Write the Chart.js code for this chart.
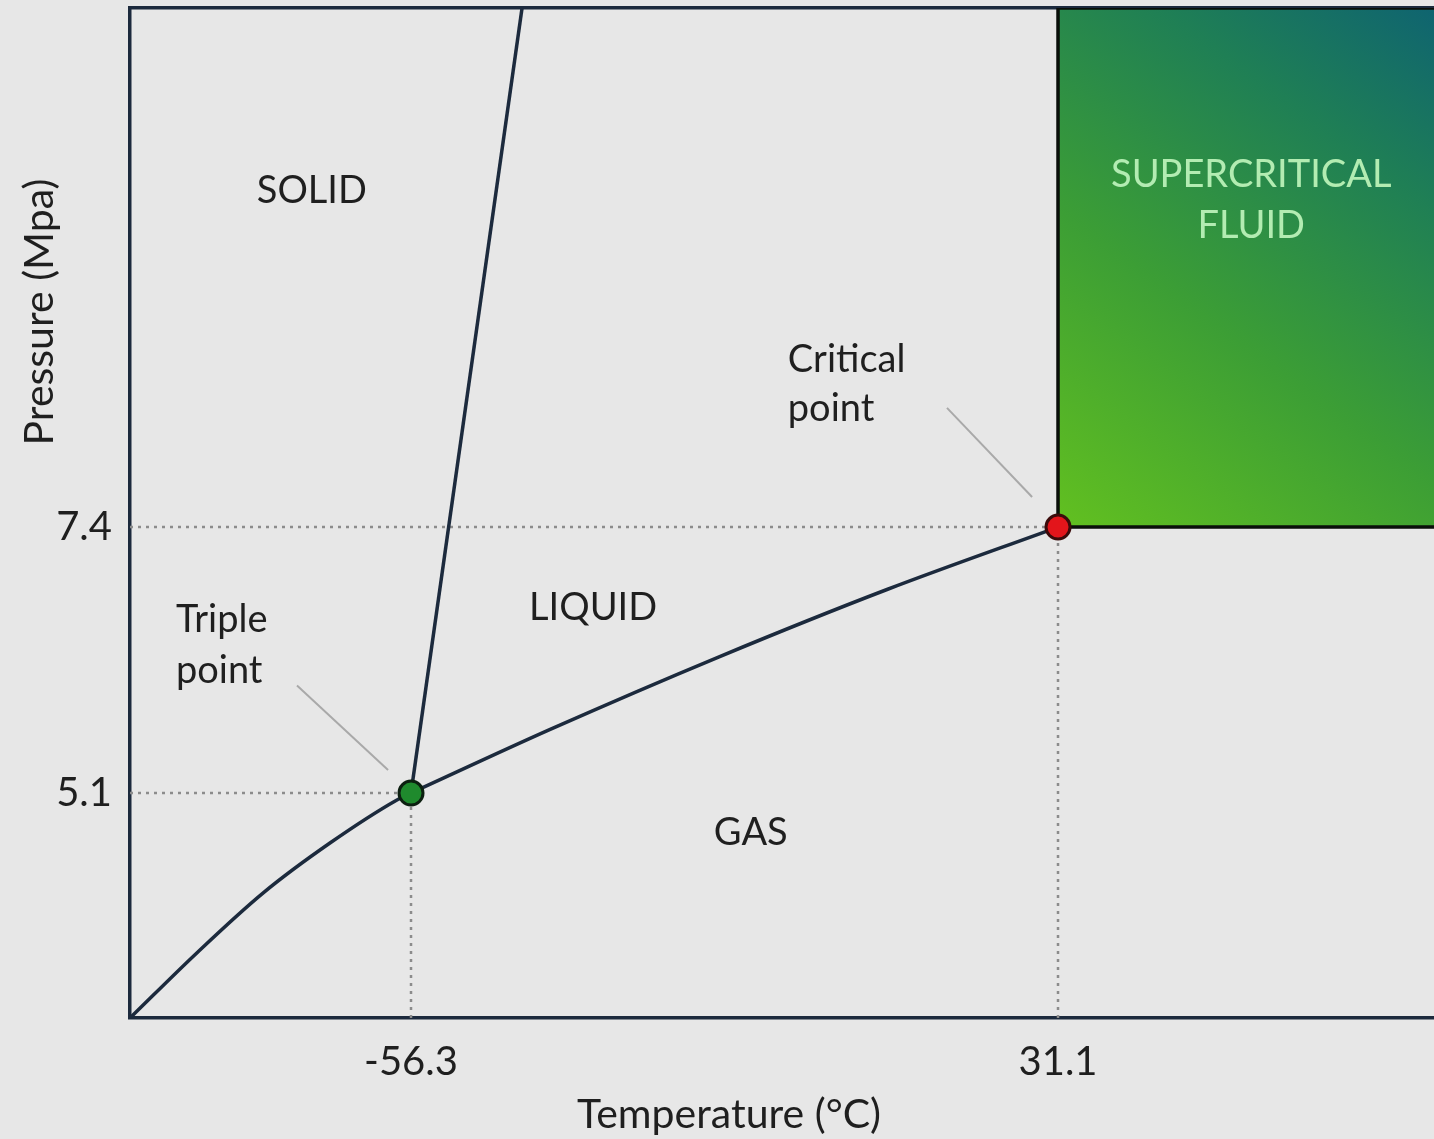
<!DOCTYPE html>
<html>
<head>
<meta charset="utf-8">
<title>CO2 phase diagram</title>
<script src="https://cdn.jsdelivr.net/npm/chart.js@4.4.1/dist/chart.umd.min.js"></script>
<style>
  html, body { margin: 0; padding: 0; background: #e7e7e7; overflow: hidden; }
  #wrap { width: 1434px; height: 1139px; position: relative; overflow: hidden; }
  canvas { display: block; }
</style>
</head>
<body>
<div id="wrap"><canvas id="phaseChart"></canvas></div>
<script>
// axis range (schematic, not to scale)
var tempMin = -94.26, tempMax = 81.89;
var presMin = 3.155, presMax = 11.888;

// tick labels
var tempTicks = [-56.3, 31.1];
var presTicks = [5.1, 7.4];

// special points
var triplePoint = {x: -56.3, y: 5.1};
var criticalPoint = {x: 31.1, y: 7.4};

// phase boundaries
var sublimationT = [-94.26, -85.2, -76.3, -67.2, -58.2, -56.3];
var sublimationP = [3.155, 3.72, 4.235, 4.67, 5.04, 5.1];
var meltingT = [-56.3, -41.3];
var meltingP = [5.1, 11.888];
var vaporT = [-56.3, -37.5, -14.6, 8.0, 31.1];
var vaporP = [5.1, 5.65, 6.28, 6.86, 7.4];

// text in the plot
var phaseNames = ["SOLID", "LIQUID", "GAS", "SUPERCRITICAL", "FLUID"];
var phaseT = [-69.7, -31.7, -10.4, 57.2, 57.2];
var phaseP = [10.20, 6.60, 4.65, 10.34, 9.90];
var noteLines = ["Triple", "point", "Critical", "point"];
var noteT = [-88.05, -88.05, -5.4, -5.4];
var noteP = [6.49, 6.05, 8.74, 8.32];
// leader lines from notes to points
var tripleLeaderT = [-71.7, -59.4];
var tripleLeaderP = [6.03, 5.30];
var criticalLeaderT = [16.1, 27.6];
var criticalLeaderP = [8.43, 7.66];

function pts(xs, ys) {
  return xs.map(function(x, i) { return {x: x, y: ys[i]}; });
}

var lineColor = "#1c2a3d";
var guideColor = "#8c8c8c";
var textColor = "#1f1f1f";

// supercritical block gradient
function scfFill(ctx) {
  var chart = ctx.chart;
  if (!chart.chartArea) return "#3f9c35";
  var sx = chart.scales.x, sy = chart.scales.y;
  var g = chart.ctx.createLinearGradient(
    sx.getPixelForValue(criticalPoint.x), sy.getPixelForValue(criticalPoint.y),
    sx.getPixelForValue(tempMax), sy.getPixelForValue(presMax));
  g.addColorStop(0, "#62c020");
  g.addColorStop(0.4, "#3c9e35");
  g.addColorStop(0.75, "#1f7f55");
  g.addColorStop(1, "#0f6470");
  return g;
}

var labelPlugin = {
  id: "phaseLabels",
  afterDatasetsDraw: function(chart) {
    var c = chart.ctx, sx = chart.scales.x, sy = chart.scales.y, ca = chart.chartArea;
    c.save();
    c.font = "38px Lato";
    c.textBaseline = "alphabetic";
    c.textAlign = "center";
    phaseNames.forEach(function(name, i) {
      c.fillStyle = i >= 3 ? "#b3ecb2" : textColor;
      c.fillText(name, sx.getPixelForValue(phaseT[i]), sy.getPixelForValue(phaseP[i]));
    });
    c.textAlign = "left";
    c.fillStyle = textColor;
    noteLines.forEach(function(txt, i) {
      c.fillText(txt, sx.getPixelForValue(noteT[i]), sy.getPixelForValue(noteP[i]));
    });
    // axis titles
    c.font = "41px Lato";
    c.textAlign = "center";
    c.textBaseline = "middle";
    c.fillText("Temperature (\u00B0C)", ca.left + 599, ca.bottom + 97);
    c.translate(ca.left - 90, ca.top + 304);
    c.rotate(-Math.PI / 2);
    c.fillText("Pressure (Mpa)", 0, 0);
    c.restore();
  }
};

// keep the plot area flush with the frame
function noPad(s) {
  s.paddingTop = 0; s.paddingBottom = 0; s.paddingLeft = 0; s.paddingRight = 0;
}

var guideStyle = {
  showLine: true, borderColor: guideColor, borderWidth: 2.5, borderDash: [3, 5],
  pointRadius: 0, order: 3
};

var chart = new Chart(document.getElementById("phaseChart"), {
  type: "scatter",
  data: {
    datasets: [
      {
        label: "Critical point", data: [criticalPoint],
        pointRadius: 12, pointBackgroundColor: "#e3151b", pointBorderColor: "#3b0b0b",
        pointBorderWidth: 3, order: 0, clip: false
      },
      {
        label: "Triple point", data: [triplePoint],
        pointRadius: 12, pointBackgroundColor: "#1f8a2d", pointBorderColor: "#0c1f10",
        pointBorderWidth: 3, order: 0, clip: false
      },
      {
        label: "Sublimation", data: pts(sublimationT, sublimationP), showLine: true,
        borderColor: lineColor, borderWidth: 3.5, pointRadius: 0,
        cubicInterpolationMode: "monotone", order: 1
      },
      {
        label: "Melting", data: pts(meltingT, meltingP), showLine: true,
        borderColor: lineColor, borderWidth: 3.5, pointRadius: 0, order: 1
      },
      {
        label: "Vaporization", data: pts(vaporT, vaporP), showLine: true,
        borderColor: lineColor, borderWidth: 3.5, pointRadius: 0,
        cubicInterpolationMode: "monotone", order: 1
      },
      {
        label: "Triple leader", data: pts(tripleLeaderT, tripleLeaderP), showLine: true,
        borderColor: "#a9a9a9", borderWidth: 2, pointRadius: 0, order: 2
      },
      {
        label: "Critical leader", data: pts(criticalLeaderT, criticalLeaderP), showLine: true,
        borderColor: "#a9a9a9", borderWidth: 2, pointRadius: 0, order: 2
      },
      Object.assign({label: "P guide 7.4", data: [{x: tempMin, y: 7.4}, criticalPoint]}, guideStyle),
      Object.assign({label: "P guide 5.1", data: [{x: tempMin, y: 5.1}, triplePoint]}, guideStyle),
      Object.assign({label: "T guide -56.3", data: [{x: -56.3, y: presMin}, triplePoint]}, guideStyle),
      Object.assign({label: "T guide 31.1", data: [{x: 31.1, y: presMin}, criticalPoint]}, guideStyle),
      {
        label: "Supercritical fluid",
        data: [{x: tempMax, y: 7.4}, criticalPoint, {x: 31.1, y: presMax}, {x: tempMax, y: presMax}],
        showLine: true, fill: "shape", backgroundColor: scfFill,
        borderColor: "#0a0f0a", borderWidth: 3.5, pointRadius: 0, order: 4
      }
    ]
  },
  options: {
    responsive: true,
    maintainAspectRatio: false,
    animation: false,
    layout: { padding: 0, autoPadding: false },
    plugins: { legend: { display: false }, tooltip: { enabled: false } },
    scales: {
      x: {
        type: "linear", min: tempMin, max: tempMax,
        afterBuildTicks: function(s) { s.ticks = tempTicks.map(function(v) { return {value: v}; }); },
        afterFit: function(s) { s.height = 121; noPad(s); },
        grid: { display: false, drawTicks: false },
        border: { color: lineColor, width: 3.5 },
        ticks: {
          font: { family: "Lato", size: 40 }, color: textColor, padding: 20,
          maxRotation: 0, autoSkip: false,
          callback: function(v) { return v.toFixed(1); }
        }
      },
      xTop: {
        type: "linear", position: "top", min: tempMin, max: tempMax,
        afterFit: function(s) { s.height = 8; noPad(s); },
        grid: { display: false, drawTicks: false },
        border: { color: lineColor, width: 3.5 },
        ticks: { display: false }
      },
      y: {
        type: "linear", min: presMin, max: presMax,
        afterBuildTicks: function(s) { s.ticks = presTicks.map(function(v) { return {value: v}; }); },
        afterFit: function(s) { s.width = 130; noPad(s); },
        grid: { display: false, drawTicks: false },
        border: { color: lineColor, width: 3.5 },
        ticks: {
          font: { family: "Lato", size: 40 }, color: textColor, padding: 18,
          callback: function(v) { return v.toFixed(1); }
        }
      }
    }
  },
  plugins: [labelPlugin]
});
</script>
</body>
</html>
